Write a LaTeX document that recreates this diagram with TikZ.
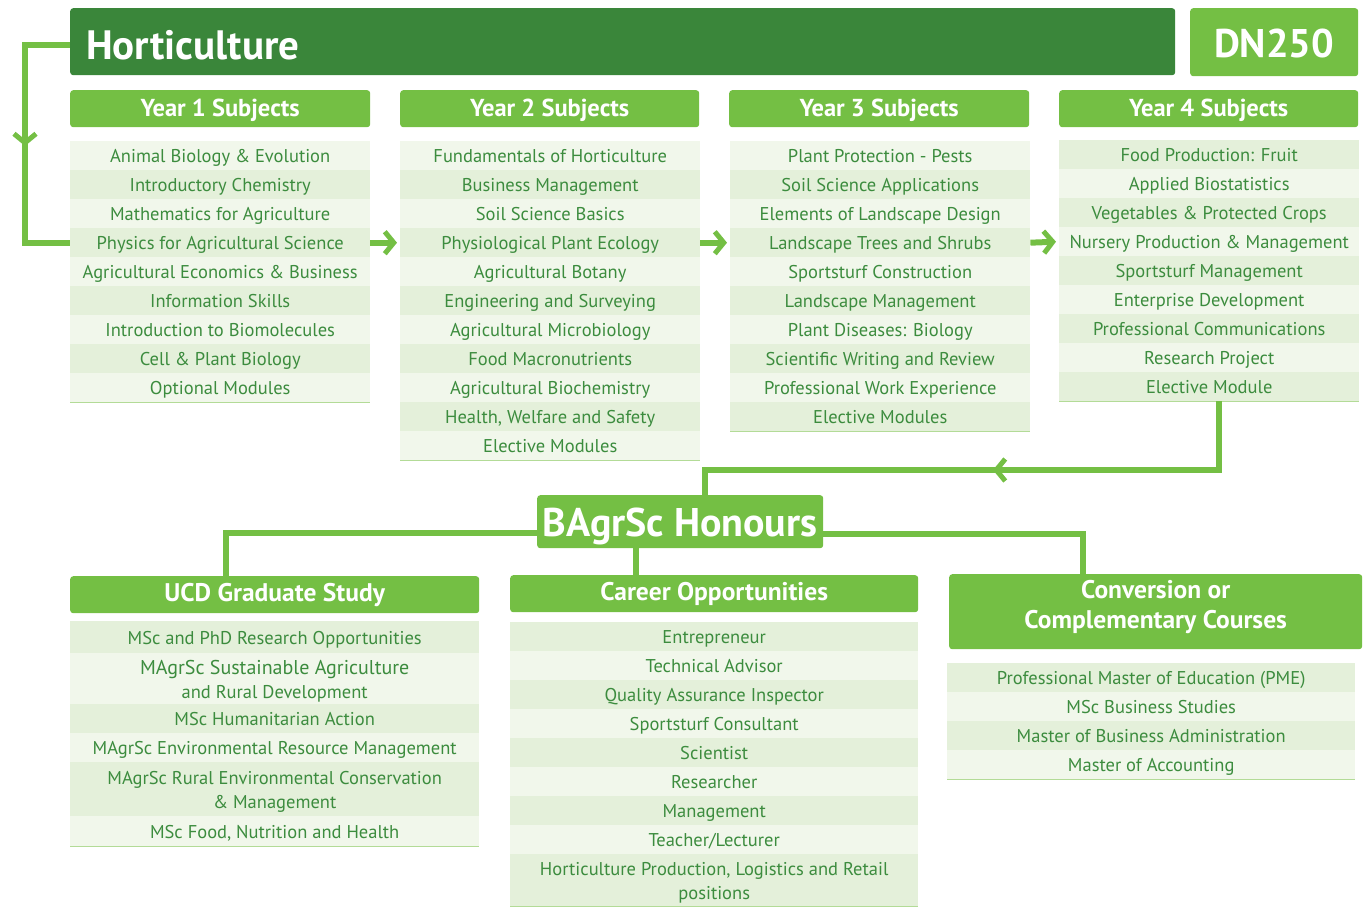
\documentclass[tikz,border=0pt]{standalone}
\usepackage{fontspec}
\setmainfont{PT Sans}
\usetikzlibrary{arrows.meta}
\definecolor{dkgreen}{HTML}{3A863A}
\definecolor{ltgreen}{HTML}{74BF44}
\definecolor{txtgreen}{HTML}{3C8C3E}
\definecolor{rowA}{HTML}{E4F0DA}
\definecolor{rowB}{HTML}{F1F7EB}
\definecolor{rulegreen}{HTML}{B3DB97}
\tikzset{
  hdr/.style={fill=ltgreen, rounded corners=3pt, text=white, font=\bfseries\fontsize{24.5}{30}\selectfont, inner sep=0pt, anchor=north west, align=center},
  yearhdr/.style={hdr, minimum height=37, text height=19, text depth=4},
  bighdr/.style={hdr, font=\bfseries\fontsize{25.5}{30}\selectfont, minimum height=37, text height=19, text depth=5},
  itembase/.style={text=txtgreen, font=\fontsize{18.5}{24}\selectfont, inner sep=0pt, anchor=north west, align=center},
  item/.style={itembase, text height=18, text depth=3.5},
  mltext/.style={label={[text=txtgreen, font=\fontsize{18.5}{24}\selectfont, align=center, inner sep=0pt, yshift=-3pt]center:{#1}}},
  link/.style={ltgreen, line width=6pt},
  tip/.style={-{Straight Barb[length=9pt,width=22pt,line width=5pt]}},
  listrule/.style={rulegreen, line width=1.5pt},
}
\newcommand\yearlist[5]{%
  \foreach \t [count=\i] in {#5} {
    \pgfmathtruncatemacro\odd{mod(\i+#4,2)}
    \ifnum\odd=1 \def\fc{rowB}\else\def\fc{rowA}\fi
    \node[item, fill=\fc, minimum width=300, minimum height=29] (#1\i) at (#2,#3+29*\i-29) {\t};
  }}
\begin{document}
\begin{tikzpicture}[x=1pt,y=-1pt]
\useasboundingbox (0,0) rectangle (1370,908);
% title bars
\node[fill=dkgreen, rounded corners=3pt, anchor=north west, minimum width=1105, minimum height=67, inner sep=0pt] (hort) at (70,8) {};
\node[text=white, font=\bfseries\fontsize{41}{44}\selectfont, anchor=west, inner sep=0pt, text height=29, text depth=0] (hortt) at (86,45) {Horticulture};
\node[hdr, minimum width=168, minimum height=68, font=\bfseries\fontsize{40}{44}\selectfont, text height=30, text depth=0] (dn) at (1190,8) {DN250};
% year headers
\node[yearhdr, minimum width=300] (y1) at (70,90) {Year 1 Subjects};
\node[yearhdr, minimum width=299] (y2) at (400,90) {Year 2 Subjects};
\node[yearhdr, minimum width=300] (y3) at (729,90) {Year 3 Subjects};
\node[yearhdr, minimum width=299] (y4) at (1059,90) {Year 4 Subjects};
% year lists
\yearlist{a}{70}{141}{0}{Animal Biology \& Evolution, Introductory Chemistry, Mathematics for Agriculture, Physics for Agricultural Science, Agricultural Economics \& Business, Information Skills, Introduction to Biomolecules, Cell \& Plant Biology, Optional Modules}
\yearlist{b}{400}{141}{0}{Fundamentals of Horticulture, Business Management, Soil Science Basics, Physiological Plant Ecology, Agricultural Botany, Engineering and Surveying, Agricultural Microbiology, Food Macronutrients, Agricultural Biochemistry, {Health, Welfare and Safety}, Elective Modules}
\yearlist{c}{730}{141}{0}{Plant Protection - Pests, Soil Science Applications, Elements of Landscape Design, Landscape Trees and Shrubs, Sportsturf Construction, Landscape Management, Plant Diseases: Biology, Scientific Writing and Review, Professional Work Experience, Elective Modules}
\yearlist{d}{1059}{140}{1}{Food Production: Fruit, Applied Biostatistics, Vegetables \& Protected Crops, Nursery Production \& Management, Sportsturf Management, Enterprise Development, Professional Communications, Research Project, Elective Module}
\draw[listrule] (a9.south west) -- (a9.south east);
\draw[listrule] (b11.south west) -- (b11.south east);
\draw[listrule] (c10.south west) -- (c10.south east);
\draw[listrule] (d9.south west) -- (d9.south east);
% arrows between years
\draw[link, tip] (a4.east) -- ([xshift=-3pt]b4.west);
\draw[link, tip] (b4.east) -- ([xshift=-3pt]c4.west);
\draw[link, tip] (c4.east) -- ([xshift=-3pt]d4.west);
% left loop
\draw[link] (hort.west |- hortt.west) -| (25,150) |- (a4.west);
\draw[link, tip] (hort.west |- hortt.west) -| (25,146);
% honours
\node[hdr, minimum width=286, minimum height=53, font=\bfseries\fontsize{40}{44}\selectfont, text height=29, text depth=0] (hon) at (537,495) {BAgrSc Honours};
\coordinate (d9b) at ([xshift=10pt]d9.south);
\draw[link] (d9b) |- (705,470) -- (705,497);
\draw[link, tip] (d9b) |- (993,470);
% bottom headers
\node[bighdr, minimum width=409] (ucd) at (70,576) {UCD Graduate Study};
\node[bighdr, minimum width=408] (car) at (510,575) {Career Opportunities};
\node[hdr, minimum width=413, minimum height=75,
  label={[text=white, font=\bfseries\fontsize{25.5}{30}\selectfont, align=center, yshift=4.5pt]center:Conversion or\\Complementary Courses}] (con) at (949,574) {};
\draw[link] (hon.west |- 0,533) -| (ucd.north -| 226,0);
\draw[link] (hon.east |- 0,534) -| (con.north -| 1083,0);
\draw[link] (hon.south -| 636,0) -- (car.north -| 636,0);
% UCD list
\node[item, fill=rowA, minimum width=409, minimum height=32] (u1) at (70,621) {MSc and PhD Research Opportunities};
\node[itembase, fill=rowB, minimum width=409, minimum height=51,
  mltext={{\fontsize{20}{24}\selectfont MAgrSc Sustainable Agriculture}\\and Rural Development}] (u2) at (70,653) {};
\node[item, fill=rowA, minimum width=409, minimum height=29] (u3) at (70,704) {MSc Humanitarian Action};
\node[item, fill=rowB, minimum width=409, minimum height=29] (u4) at (70,733) {MAgrSc Environmental Resource Management};
\node[itembase, fill=rowA, minimum width=409, minimum height=54,
  mltext={MAgrSc Rural Environmental Conservation\\\& Management}] (u5) at (70,762) {};
\node[item, fill=rowB, minimum width=409, minimum height=30] (u6) at (70,816) {MSc Food, Nutrition and Health};
\draw[listrule] (u6.south west) -- (u6.south east);
% Career list
\node[item, fill=rowA, minimum width=408, minimum height=29] (k1) at (510,622) {Entrepreneur};
\node[item, fill=rowB, minimum width=408, minimum height=29] (k2) at (510,651) {Technical Advisor};
\node[item, fill=rowA, minimum width=408, minimum height=29] (k3) at (510,680) {Quality Assurance Inspector};
\node[item, fill=rowB, minimum width=408, minimum height=29] (k4) at (510,709) {Sportsturf Consultant};
\node[item, fill=rowA, minimum width=408, minimum height=29] (k5) at (510,738) {Scientist};
\node[item, fill=rowB, minimum width=408, minimum height=29] (k6) at (510,767) {Researcher};
\node[item, fill=rowA, minimum width=408, minimum height=29] (k7) at (510,796) {Management};
\node[item, fill=rowB, minimum width=408, minimum height=29] (k8) at (510,825) {Teacher/Lecturer};
\node[itembase, fill=rowA, minimum width=408, minimum height=52,
  mltext={Horticulture Production, Logistics and Retail\\positions}] (k9) at (510,854) {};
\draw[listrule] (k9.south west) -- (k9.south east);
% Conversion list
\node[item, fill=rowA, minimum width=408, minimum height=29] (v1) at (947,663) {Professional Master of Education (PME)};
\node[item, fill=rowB, minimum width=408, minimum height=29] (v2) at (947,692) {MSc Business Studies};
\node[item, fill=rowA, minimum width=408, minimum height=29] (v3) at (947,721) {Master of Business Administration};
\node[item, fill=rowB, minimum width=408, minimum height=29] (v4) at (947,750) {Master of Accounting};
\draw[listrule] (v4.south west) -- (v4.south east);
\end{tikzpicture}
\end{document}
